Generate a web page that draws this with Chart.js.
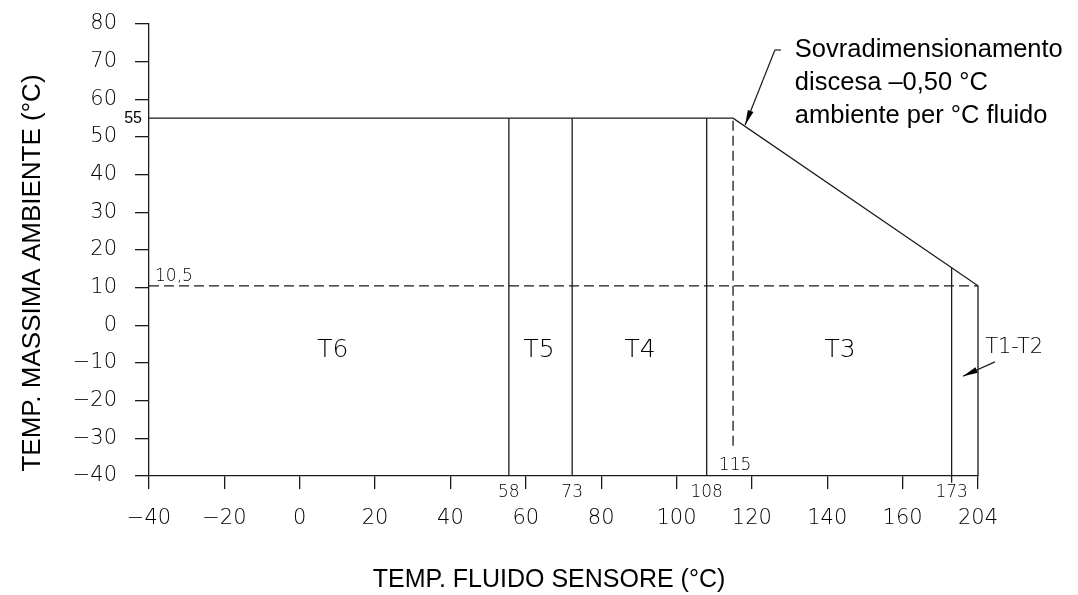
<!DOCTYPE html>
<html>
<head>
<meta charset="utf-8">
<script src="https://cdn.jsdelivr.net/npm/chart.js@4.4.1/dist/chart.umd.min.js"></script>
<style>
    html, body { margin: 0; padding: 0; background: #fff; }
    canvas { display: block; }
</style>
</head>
<body>
<canvas id="myChart" width="1078" height="595"></canvas>
<script>
// Tick labels (the last x tick is drawn at 180 but labelled 204, as on the drawing)
const xTicks = [-40, -20, 0, 20, 40, 60, 80, 100, 120, 140, 160, 180];
const xTickLabels = ["\u221240", "\u221220", "0", "20", "40", "60", "80", "100", "120", "140", "160", "204"];

// Envelope of max ambient temp vs fluid temp
const envelopeX = [-40, 115, 180, 180];
const envelopeY = [55, 55, 10.5, -40];

// Class boundaries
const boundaryX = [55.5, 72.3, 108, 173];
const boundaryTop = [55, 55, 55, 15.3];
const boundaryBottom = [-40, -40, -40, -41.8];
const boundaryLabels = ["58", "73", "108", "173"];

// Dashed reference lines
const derateX = 115;
const derateY = [-32, 55];
const limitY = 10.5;

// Temperature class zones
const zoneNames = ["T6", "T5", "T4", "T3"];
const zoneX = [8.8, 63.5, 90.3, 143.4];
const zoneY = -6.8;

// Notes
const noteLines = ["Sovradimensionamento", "discesa \u20130,50 \u00b0C", "ambiente per \u00b0C fluido"];
const noteX = 131.4;
const noteY = [71.2, 62.4, 53.6];

const lineColor = "#1a1a1a";
const cadFont = '"DejaVu Sans"';

function pts(xs, ys) {
    return xs.map((v, i) => ({ x: v, y: ys[i] }));
}

const datasets = [];
datasets.push({ data: pts(envelopeX, envelopeY) });
boundaryX.forEach((bx, i) => {
    datasets.push({ data: pts([bx, bx], [boundaryBottom[i], boundaryTop[i]]) });
});
datasets.push({ data: pts([derateX, derateX], derateY), borderDash: [10, 5] });
datasets.push({ data: pts([-40, 180], [limitY, limitY]), borderDash: [10, 5] });
datasets.forEach(d => {
    d.showLine = true;
    d.borderColor = lineColor;
    d.borderWidth = 1.3;
    d.pointRadius = 0;
    d.fill = false;
    d.clip = false;
});

// Draws arrow with a filled head at (x2, y2)
function arrow(ctx, x1, y1, x2, y2) {
    const a = Math.atan2(y2 - y1, x2 - x1);
    ctx.beginPath();
    ctx.moveTo(x1, y1);
    ctx.lineTo(x2, y2);
    ctx.stroke();
    ctx.beginPath();
    ctx.moveTo(x2, y2);
    ctx.lineTo(x2 - 15 * Math.cos(a) + 3 * Math.sin(a), y2 - 15 * Math.sin(a) - 3 * Math.cos(a));
    ctx.lineTo(x2 - 15 * Math.cos(a) - 3 * Math.sin(a), y2 - 15 * Math.sin(a) + 3 * Math.cos(a));
    ctx.closePath();
    ctx.fill();
}

const drawingNotes = {
    id: "drawingNotes",
    afterDraw(chart) {
        const { ctx, scales: { x, y } } = chart;
        ctx.save();
        ctx.fillStyle = "#000";
        ctx.strokeStyle = lineColor;
        ctx.lineWidth = 1.2;

        // small value marks
        ctx.font = '16px "Liberation Sans"';
        ctx.textAlign = "right";
        ctx.textBaseline = "middle";
        ctx.fillText("55", x.left - 7, y.getPixelForValue(55));

        ctx.font = "200 17px " + cadFont;
        ctx.textAlign = "left";
        ctx.fillText("10,5", x.left + 6, y.getPixelForValue(limitY) - 9);
        ctx.textAlign = "center";
        boundaryLabels.forEach((t, i) => {
            ctx.fillText(t, x.getPixelForValue(boundaryX[i]), y.bottom + 17);
        });
        ctx.fillText("115", x.getPixelForValue(derateX) + 2, y.bottom - 10);

        // zones
        ctx.font = "200 25px " + cadFont;
        zoneNames.forEach((t, i) => {
            ctx.fillText(t, x.getPixelForValue(zoneX[i]), y.getPixelForValue(zoneY));
        });
        ctx.font = "200 21px " + cadFont;
        ctx.fillText("T1-T2", x.getPixelForValue(189.6), y.getPixelForValue(-5.9));
        arrow(ctx, x.getPixelForValue(184.5), y.getPixelForValue(-9.7), x.getPixelForValue(176.0), y.getPixelForValue(-13.5));

        // derating note
        ctx.font = '25.5px "Liberation Sans"';
        ctx.textAlign = "left";
        ctx.textBaseline = "alphabetic";
        noteLines.forEach((t, i) => {
            ctx.fillText(t, x.getPixelForValue(noteX), y.getPixelForValue(noteY[i]));
        });
        ctx.beginPath();
        ctx.moveTo(x.getPixelForValue(127.7), y.getPixelForValue(73.1));
        ctx.lineTo(x.getPixelForValue(126.1), y.getPixelForValue(73.1));
        ctx.stroke();
        arrow(ctx, x.getPixelForValue(126.1), y.getPixelForValue(73.1), x.getPixelForValue(118.2), y.getPixelForValue(53.2));

        // axis titles
        ctx.textAlign = "center";
        ctx.textBaseline = "middle";
        ctx.font = '25px "Liberation Sans"';
        ctx.fillText("TEMP. FLUIDO SENSORE (\u00b0C)", 549, 580);
        ctx.font = '26px "Liberation Sans"';
        ctx.translate(33, 273);
        ctx.rotate(-Math.PI / 2);
        ctx.fillText("TEMP. MASSIMA AMBIENTE (\u00b0C)", 0, 0);
        ctx.restore();
    }
};

const config = {
    type: "scatter",
    data: { datasets: datasets },
    options: {
        responsive: false,
        animation: false,
        devicePixelRatio: 1,
        layout: { padding: { left: 0, right: 100, top: 24, bottom: 0 } },
        plugins: { legend: { display: false }, tooltip: { enabled: false } },
        scales: {
            x: {
                type: "linear",
                min: -40,
                max: 180,
                afterFit: s => { s.height = 119; s.paddingLeft = 0; s.paddingRight = 0; },
                afterBuildTicks: s => { s.ticks = xTicks.map(v => ({ value: v })); },
                ticks: {
                    color: "#000",
                    font: { family: cadFont, size: 21, weight: 200 },
                    padding: 17,
                    maxRotation: 0,
                    autoSkip: false,
                    callback: v => xTickLabels[xTicks.indexOf(v)]
                },
                grid: { drawOnChartArea: false, drawTicks: true, tickLength: 13, color: lineColor, lineWidth: 1.3 },
                border: { display: true, color: lineColor, width: 1.3 }
            },
            y: {
                type: "linear",
                min: -40,
                max: 80,
                afterFit: s => { s.width = 149; s.paddingTop = 12; s.paddingBottom = 12; },
                ticks: {
                    stepSize: 10,
                    color: "#000",
                    font: { family: cadFont, size: 21, weight: 200 },
                    padding: 18,
                    callback: v => v < 0 ? "\u2212" + Math.abs(v) : "" + v
                },
                grid: { drawOnChartArea: false, drawTicks: true, tickLength: 14, color: lineColor, lineWidth: 1.3 },
                border: { display: true, color: lineColor, width: 1.3 }
            }
        }
    },
    plugins: [drawingNotes]
};

var myChart = new Chart(document.getElementById("myChart"), config);
</script>
</body>
</html>
